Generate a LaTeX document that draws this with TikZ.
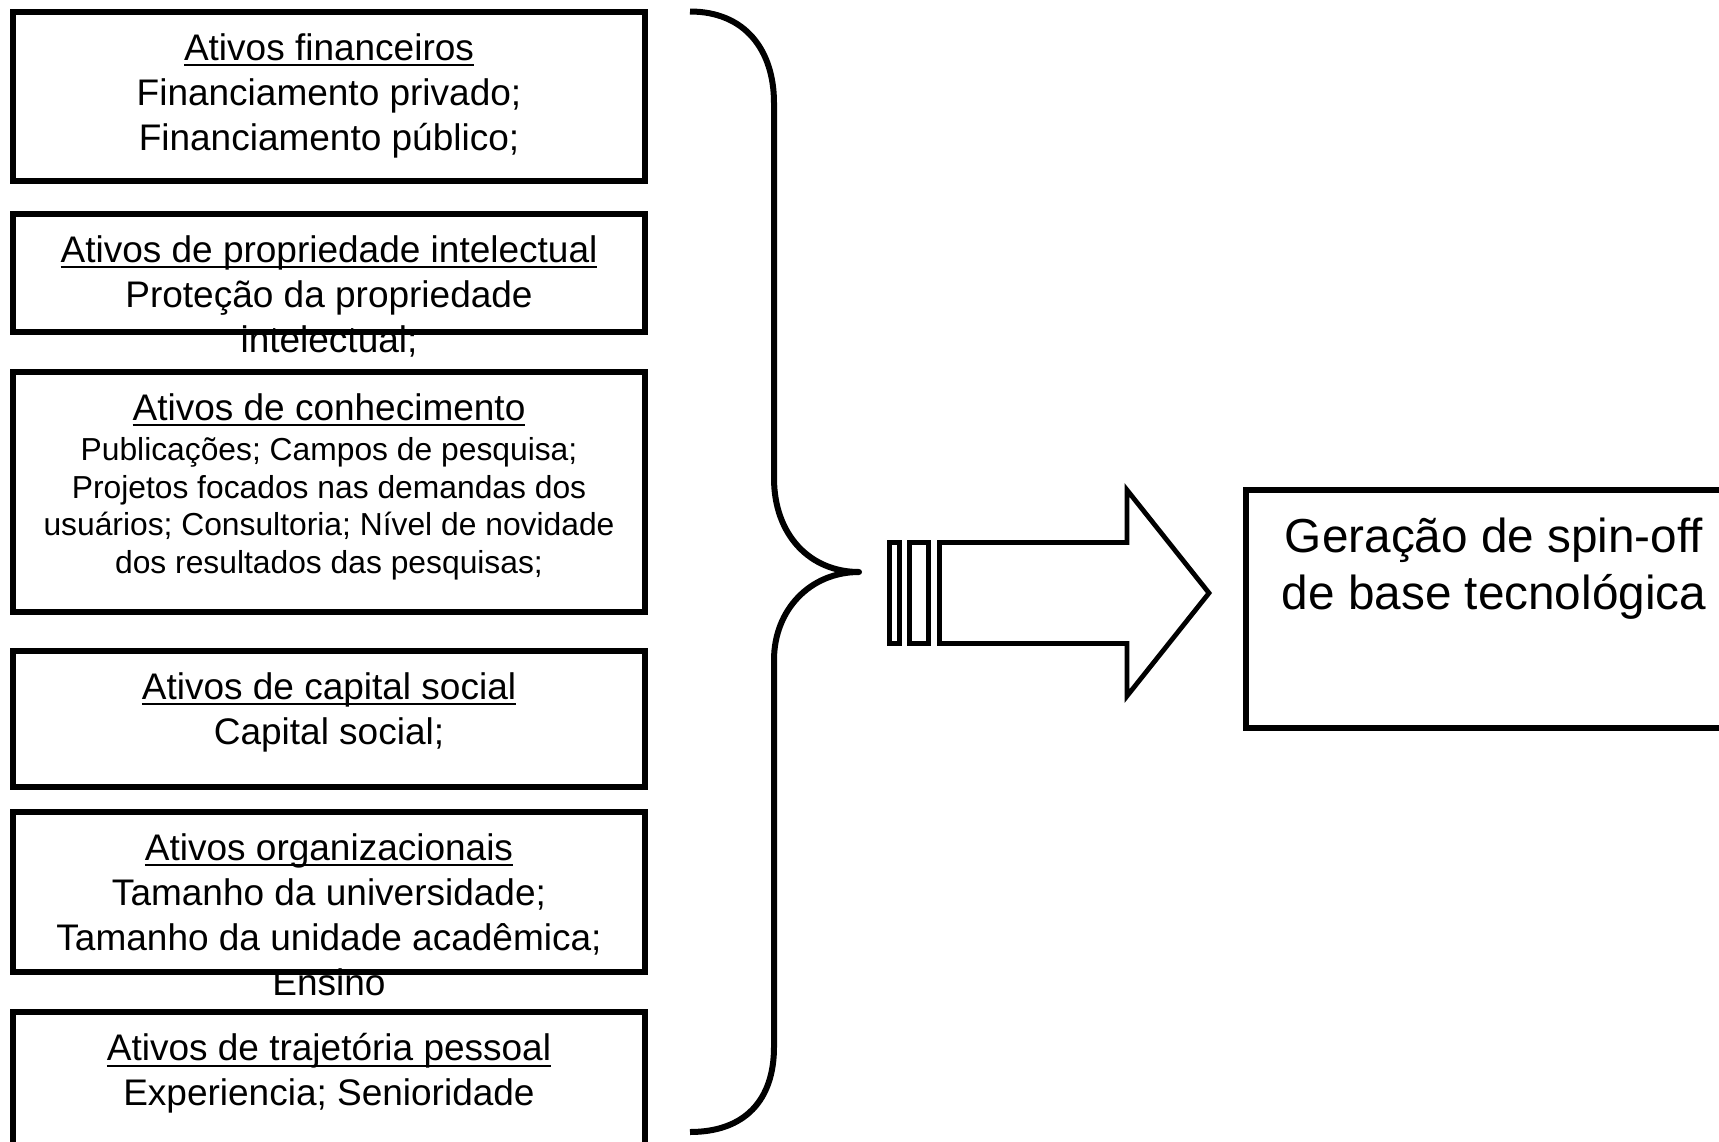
\documentclass[tikz,border=0pt]{standalone}
\usepackage{fontspec}
\setmainfont{Liberation Sans}
\usetikzlibrary{positioning}

% sublinhado grosso
\newcommand{\sublinhado}[1]{\setbox0\hbox{#1}\rlap{\vrule width\wd0 height -1.9pt depth 3pt}\box0}

\tikzset{
    caixa/.style={draw, line width=2.8pt, minimum width=316pt, inner sep=0pt},
    texto/.style={align=center, inner sep=0pt, anchor=north, font=\fontsize{18.5pt}{22.5pt}\selectfont},
    textinho/.style={texto, font=\fontsize{15.9pt}{18.8pt}\selectfont},
    seta/.style={line width=2.4pt, line join=miter},
}

\begin{document}
\begin{tikzpicture}[x=0.5pt, y=-0.5pt]
    \clip (0,0) rectangle (1719,1141);

    % caixas dos ativos
    \node[caixa, minimum height=84.5pt] (fin) at (329,96.5) {};
    \node[caixa, minimum height=59pt] (prop) at (329,273) {};
    \node[caixa, minimum height=120pt] (conh) at (329,492) {};
    \node[caixa, minimum height=68pt] (soc) at (329,719) {};
    \node[caixa, minimum height=80pt] (org) at (329,892) {};
    \node[caixa, minimum height=84pt] (traj) at (329,1096) {};

    \node[texto, below=12pt of fin.north] (fin-t) {\sublinhado{Ativos financeiros}\\Financiamento privado;\\Financiamento público;};
    \node[texto, below=12pt of prop.north] (prop-t) {\sublinhado{Ativos de propriedade intelectual}\\Proteção da propriedade\\intelectual;};
    \node[texto, below=12pt of conh.north] (conh-t) {\sublinhado{Ativos de conhecimento}};
    \node[textinho, below=34pt of conh.north] (conh-c) {Publicações; Campos de pesquisa;\\Projetos focados nas demandas dos\\usuários; Consultoria; Nível de novidade\\dos resultados das pesquisas;};
    \node[texto, below=12pt of soc.north] (soc-t) {\sublinhado{Ativos de capital social}\\Capital social;};
    \node[texto, below=12pt of org.north] (org-t) {\sublinhado{Ativos organizacionais}\\Tamanho da universidade;\\Tamanho da unidade acadêmica;\\Ensino};
    \node[texto, below=12pt of traj.north] (traj-t) {\sublinhado{Ativos de trajetória pessoal}\\Experiencia; Senioridade};

    % chave
    \draw[line width=3pt, line join=round] (690,11.5) .. controls (745,11.5) and (774,50) .. (774,103) -- (774,478)
        .. controls (774,535) and (810,572) .. (859,572) .. controls (810,572) and (774,610) .. (774,660) -- (774,1047)
        .. controls (774,1100) and (745,1132) .. (690,1132);

    % seta
    \draw[seta] (889.5,542.5) rectangle (899.5,643.5);
    \draw[seta] (909.5,542.5) rectangle (928.5,643.5);
    \draw[seta] (939.5,542.5) -- (1127,542.5) -- (1127,490) -- (1209,593) -- (1127,696) -- (1127,643.5) -- (939.5,643.5) -- cycle;

    % resultado
    \node[draw, line width=2.6pt, minimum width=248pt, minimum height=119pt] (spin) at (1494,609) {};
    \node[texto, font=\fontsize{23.85pt}{28.5pt}\selectfont, below=15pt of spin.north] (spin-t) {Geração de spin-off\\de base tecnológica};
\end{tikzpicture}
\end{document}
